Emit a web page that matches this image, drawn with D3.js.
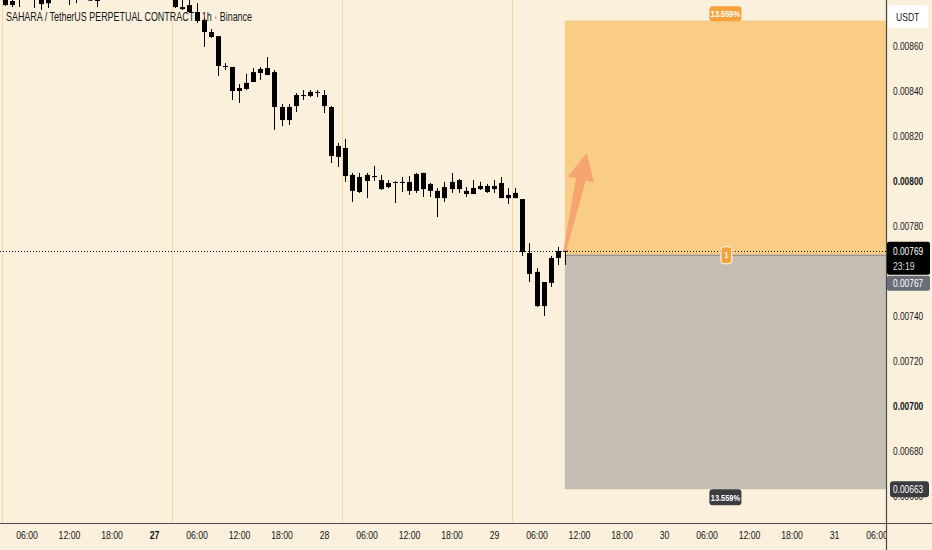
<!DOCTYPE html>
<html><head><meta charset="utf-8">
<script src="https://cdn.jsdelivr.net/npm/d3@7"></script>
<style>
html,body{margin:0;padding:0;background:#FBF0DB;}
svg{display:block;}
</style></head><body>
<svg id="c" width="932" height="550"></svg>
<script>
// ---- data (hours counted from 26th 00:00, 1h candles) ----
const startHour = 2;
const opens = [0.00884,0.008817,0.0088,0.00883,0.00886,0.00885,0.00884,0.00879,0.00883,0.00886,
0.00885,0.00884,0.00886,0.00887,0.0088,0.00884,0.00888,0.00893,0.00891,0.00896,
0.00894,0.0089,0.00892,0.00889,0.00886,0.00883,0.008773,0.008782,0.008751,0.008716,
0.008662,0.008644,0.008511,0.008507,0.0084,0.008409,0.00844,0.00848,0.008471,0.008484,
0.008329,0.008271,0.008333,0.008382,0.008378,0.008396,0.008382,0.008329,0.008107,0.008147,
0.008027,0.007951,0.008,0.008018,0.008004,0.007973,0.007996,0.007993,0.007996,0.007956,
0.008036,0.007987,0.007956,0.007924,0.007964,0.008004,0.007956,0.007942,0.007964,0.007978,
0.007964,0.007991,0.007924,0.007924,0.00792,0.00768,0.007596,0.007444,0.007547,0.007658,
0.007689];
const highs = [0.00888,0.00883,0.00884,0.00888,0.00889,0.00889,0.00887,0.00886,0.00889,0.0089,
0.00889,0.0089,0.00891,0.0089,0.00886,0.0089,0.00896,0.00897,0.00899,0.009,
0.00897,0.00895,0.00894,0.00891,0.00889,0.00885,0.008804,0.008804,0.008791,0.008724,
0.008676,0.008644,0.008524,0.008507,0.008431,0.008476,0.008502,0.008507,0.008551,0.008493,
0.008342,0.008342,0.008391,0.008404,0.008404,0.008404,0.008404,0.008333,0.008169,0.008187,
0.008036,0.008036,0.008036,0.008067,0.008027,0.008004,0.007998,0.008018,0.008022,0.008036,
0.008036,0.007991,0.007969,0.007996,0.008036,0.008009,0.007973,0.008004,0.007996,0.007987,
0.008004,0.008018,0.007969,0.007969,0.00792,0.007724,0.007613,0.007551,0.007667,0.007707,
0.007692];
const lows = [0.00879,0.008778,0.008773,0.008773,0.00881,0.008769,0.00876,0.008769,0.00881,0.00882,
0.008782,0.00879,0.00882,0.0088,0.008773,0.00882,0.00886,0.00888,0.00889,0.0089,
0.00887,0.00886,0.00884,0.00882,0.00881,0.008769,0.00876,0.008747,0.008702,0.008596,
0.008636,0.008467,0.008493,0.00836,0.008347,0.008404,0.00844,0.008449,0.008471,0.008227,
0.008244,0.008249,0.008307,0.00836,0.008373,0.008373,0.008302,0.00808,0.008062,0.007996,
0.007907,0.007947,0.007924,0.008,0.00796,0.007969,0.007902,0.007951,0.007938,0.007947,
0.007929,0.007929,0.00784,0.007907,0.007947,0.007947,0.007929,0.007942,0.00796,0.007947,
0.007947,0.007924,0.007898,0.007924,0.007667,0.007551,0.00744,0.0074,0.007529,0.007627,
0.007627];
const closes = [0.00882,0.008782,0.008782,0.00885,0.00884,0.00883,0.008786,0.00882,0.00886,0.00885,
0.00884,0.00886,0.00887,0.008802,0.00884,0.00888,0.00893,0.00891,0.00896,0.00894,
0.0089,0.00892,0.00889,0.00886,0.00883,0.008773,0.008764,0.008751,0.008711,0.008662,
0.00864,0.008511,0.008507,0.0084,0.008413,0.008436,0.008484,0.008498,0.008502,0.008329,
0.008271,0.008329,0.008382,0.008378,0.008396,0.008393,0.008333,0.008111,0.008156,0.008022,
0.007956,0.008018,0.008027,0.008022,0.007964,0.007991,0.007993,0.007996,0.007956,0.008031,
0.007964,0.007956,0.007924,0.007973,0.007996,0.007964,0.007942,0.007969,0.007978,0.007951,
0.007978,0.007924,0.007938,0.007947,0.007684,0.007587,0.007444,0.007551,0.007658,0.007689,
0.00769];

const priceTicks = [0.0066,0.0068,0.0070,0.0072,0.0074,0.0078,0.0080,0.0082,0.0084,0.0086];
const boldPrices = [0.0070,0.0080];
const timeTickHours = [6,12,18,24,30,36,42,48,54,60,66,72,78,84,90,96,102,108,114,120,126];
const timeTickLabels = ["06:00","12:00","18:00","27","06:00","12:00","18:00","28","06:00","12:00","18:00","29","06:00","12:00","18:00","30","06:00","12:00","18:00","31","06:00"];
const boldTimeLabels = ["27"];
const sessionStartHours = [3,27,51,75];

const lastPrice = 0.00769, countdown = "23:19";
const entryPrice = 0.00767, targetPrice = 0.00871, stopPrice = 0.00663;
const posStartHour = 82, posEndHour = 130;
const posPct = "13.559%";
const arrowFrom = [82, 0.00769], arrowTo = [85.1, 0.008124];
const title = "SAHARA / TetherUS PERPETUAL CONTRACT · 1h · Binance";

// ---- layout ----
const W=932, H=550, plotR=886, plotB=523;
const FONT = "'Liberation Sans',Arial,sans-serif";
function narrow(sel, f){
  sel.each(function(){
    const L=this.getComputedTextLength();
    if(L>0){ this.setAttribute('textLength', (L*f).toFixed(2)); this.setAttribute('lengthAdjust','spacingAndGlyphs'); }
  });
  return sel;
}
const x = d3.scaleLinear().domain([0,24]).range([-16,154]);
const y = d3.scaleLinear().domain([0.0066,0.0088]).range([496,1]);

const svg = d3.select('#c');
svg.append('rect').attr('width',W).attr('height',H).attr('fill','#FBF0DB');
const defs = svg.append('defs');
defs.append('clipPath').attr('id','plotClip').append('rect').attr('x',0).attr('y',0).attr('width',plotR).attr('height',plotB);
defs.append('clipPath').attr('id','timeClip').append('rect').attr('x',0).attr('y',0).attr('width',plotR).attr('height',H-plotB);

const plot = svg.append('g').attr('clip-path','url(#plotClip)');

// session break lines
plot.selectAll('line.sess').data(sessionStartHours).join('line')
  .attr('x1',d=>Math.round(x(d-0.5))+0.5).attr('x2',d=>Math.round(x(d-0.5))+0.5)
  .attr('y1',0).attr('y2',plotB).attr('stroke','#F7D5A4').attr('stroke-width',1);

// position tool
const px0 = x(posStartHour), px1 = x(posEndHour);
plot.append('rect').attr('x',px0).attr('y',y(targetPrice)).attr('width',px1-px0).attr('height',y(entryPrice)-y(targetPrice))
  .attr('fill','#F9CD86');
plot.append('rect').attr('x',px0).attr('y',y(entryPrice)).attr('width',px1-px0).attr('height',y(stopPrice)-y(entryPrice))
  .attr('fill','#C4BEB4');
plot.append('line').attr('x1',px0).attr('x2',px1).attr('y1',y(targetPrice)).attr('y2',y(targetPrice)).attr('stroke','#F8C377').attr('stroke-width',1);
plot.append('line').attr('x1',px0).attr('x2',px1).attr('y1',y(entryPrice)).attr('y2',y(entryPrice)).attr('stroke','#7C8496').attr('stroke-width',1);

// candles
const candles = opens.map((o,i)=>({t:startHour+i,o,h:highs[i],l:lows[i],c:closes[i]}));
const cg = plot.append('g');
cg.selectAll('line.wick').data(candles).join('line')
  .attr('x1',d=>Math.round(x(d.t))+0.5).attr('x2',d=>Math.round(x(d.t))+0.5)
  .attr('y1',d=>y(d.h)).attr('y2',d=>y(d.l)).attr('stroke','#000').attr('stroke-width',1);
cg.selectAll('rect.body').data(candles).join('rect')
  .attr('x',d=>Math.round(x(d.t))-2).attr('width',5)
  .attr('y',d=>y(Math.max(d.o,d.c)))
  .attr('height',d=>Math.max(1,Math.abs(y(d.o)-y(d.c))))
  .attr('fill','#000');

// last price dotted line
plot.append('line').attr('x1',0).attr('x2',plotR).attr('y1',Math.round(y(lastPrice))+0.5).attr('y2',Math.round(y(lastPrice))+0.5)
  .attr('stroke','#111').attr('stroke-width',1).attr('stroke-dasharray','1,2');

// arrow
(function(){
  const p0=[x(arrowFrom[0]),y(arrowFrom[1])], p1=[x(arrowTo[0]),y(arrowTo[1])];
  const dx=p1[0]-p0[0], dy=p1[1]-p0[1], L=Math.hypot(dx,dy);
  const u=[dx/L,dy/L], n=[-u[1],u[0]];
  const hl=27, sw0=1.5, sw1=5, hw=13.5;
  const hb=[p1[0]-u[0]*hl,p1[1]-u[1]*hl];
  const pt=(b,k)=>[b[0]+n[0]*k,b[1]+n[1]*k];
  const pts=[pt(p0,sw0),pt(hb,sw1),pt(hb,hw),p1,pt(hb,-hw),pt(hb,-sw1),pt(p0,-sw0)];
  plot.append('path').attr('d',d3.line()(pts)+'Z').attr('fill','#F6A570');
})();

// position labels
const pcx=(x(posStartHour)+plotR)/2;
function pill(g,cx,cy,w,h,fill,text,fs,stroke){
  g.append('rect').attr('x',cx-w/2).attr('y',cy-h/2).attr('width',w).attr('height',h).attr('rx',3)
   .attr('fill',fill).attr('stroke',stroke||'none').attr('stroke-width',stroke?1:0);
  const t=g.append('text').attr('x',cx).attr('y',cy).attr('dy','0.35em').attr('text-anchor','middle')
   .attr('fill','#fff').attr('font-family',FONT).attr('font-size',fs).attr('font-weight',700).text(text);
  narrow(t,0.78);
}
pill(svg,pcx,y(targetPrice)-7.5,32,15,'#F5A23C',posPct,9.5);
pill(svg,pcx,y(stopPrice)+8,32,16,'#3C3C40',posPct,9.5);
pill(svg,pcx+1,y(entryPrice),11,17,'#F5A23C','1',9,'#FFFFFF');

// title
svg.append('text').attr('x',6).attr('y',20.5).attr('font-family',FONT).attr('font-size',13)
  .attr('fill','#131722').attr('textLength',246).attr('lengthAdjust','spacingAndGlyphs').text(title);

// ---- axes ----
svg.append('rect').attr('x',plotR).attr('y',0).attr('width',W-plotR).attr('height',H).attr('fill','#FBF0DB');
const yAxis = svg.append('g').attr('transform',`translate(${plotR},0)`)
  .call(d3.axisRight(y).tickValues(priceTicks).tickSize(0).tickPadding(7).tickFormat(d3.format('.5f')));
yAxis.select('.domain').remove();
narrow(yAxis.selectAll('text').attr('font-family',FONT).attr('font-size',11).attr('fill','#131722')
  .attr('font-weight',d=>boldPrices.some(b=>Math.abs(b-d)<1e-9)?700:400), 0.76);

const xAxis = svg.append('g').attr('transform',`translate(0,${plotB})`).attr('clip-path','url(#timeClip)')
  .call(d3.axisBottom(x).tickValues(timeTickHours).tickSize(0).tickPadding(8).tickFormat((d,i)=>timeTickLabels[i]));
xAxis.select('.domain').remove();
narrow(xAxis.selectAll('text').attr('font-family',FONT).attr('font-size',11).attr('fill','#131722')
  .attr('font-weight',(d,i)=>boldTimeLabels.includes(timeTickLabels[i])?700:400), 0.79);

// axis border lines
svg.append('line').attr('x1',0).attr('x2',W).attr('y1',plotB+0.5).attr('y2',plotB+0.5).attr('stroke','#4A4A4A').attr('stroke-width',1.2);
svg.append('line').attr('x1',plotR+0.5).attr('x2',plotR+0.5).attr('y1',0).attr('y2',H).attr('stroke','#4A4A4A').attr('stroke-width',1.2);

// USDT box
svg.append('rect').attr('x',888).attr('y',5).attr('width',40).attr('height',23).attr('rx',4).attr('fill','#FFFFFF');
narrow(svg.append('text').attr('x',896).attr('y',17).attr('dy','0.35em').attr('font-family',FONT).attr('font-size',11).attr('fill','#131722').text('USDT'), 0.78);

// price labels on axis
const lp=y(lastPrice);
svg.append('rect').attr('x',887).attr('y',lp-9).attr('width',43).attr('height',33).attr('rx',2).attr('fill','#000');
narrow(svg.append('text').attr('x',893).attr('y',lp).attr('dy','0.35em').attr('font-family',FONT).attr('font-size',11).attr('fill','#fff').text(d3.format('.5f')(lastPrice)), 0.76);
narrow(svg.append('text').attr('x',893).attr('y',lp+15).attr('dy','0.35em').attr('font-family',FONT).attr('font-size',11).attr('fill','#ddd').text(countdown), 0.78);
svg.append('rect').attr('x',887).attr('y',lp+25).attr('width',43).attr('height',15).attr('rx',2).attr('fill','#6B6E78');
narrow(svg.append('text').attr('x',893).attr('y',lp+32.5).attr('dy','0.35em').attr('font-family',FONT).attr('font-size',11).attr('fill','#fff').text(d3.format('.5f')(entryPrice)), 0.76);
const sp=y(stopPrice);
svg.append('rect').attr('x',890).attr('y',sp-8).attr('width',39).attr('height',16).attr('rx',3).attr('fill','#3C3C40');
narrow(svg.append('text').attr('x',893).attr('y',sp).attr('dy','0.35em').attr('font-family',FONT).attr('font-size',11).attr('fill','#fff').text(d3.format('.5f')(stopPrice)), 0.76);
</script>
</body></html>
